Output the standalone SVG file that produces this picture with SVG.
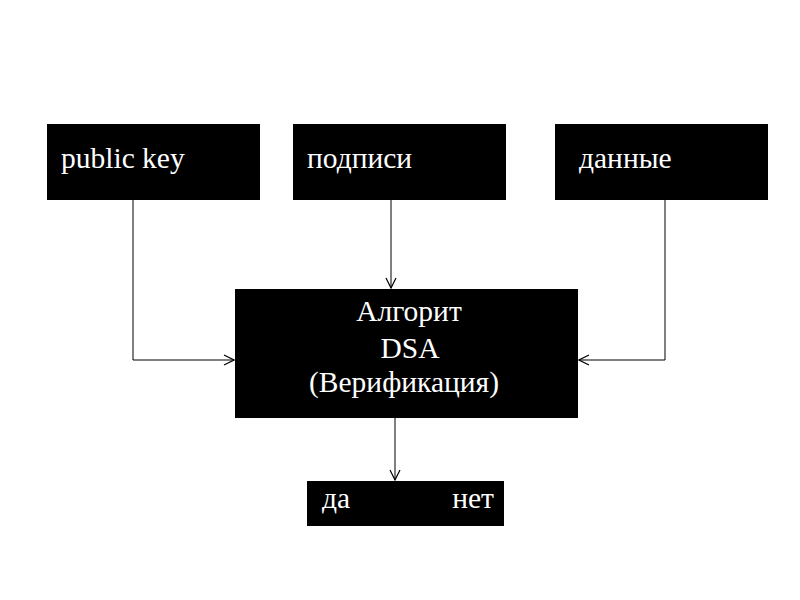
<svg xmlns="http://www.w3.org/2000/svg" width="800" height="600" viewBox="0 0 800 600">
<style>
.box{fill:#000}
.t{font-family:"Liberation Serif","DejaVu Serif",serif;font-size:29.5px;fill:#fff}
.c{fill:none;stroke:#000;stroke-width:1}
</style>
<defs>
<marker id="arr" viewBox="0 0 12 12" refX="11" refY="6" markerWidth="12" markerHeight="12" markerUnits="userSpaceOnUse" orient="auto">
<path d="M1,1 L11,6 L1,11" fill="none" stroke="#000" stroke-width="1.2"/>
</marker>
</defs>
<rect width="800" height="600" fill="#fff"/>
<g id="connectors">
<path class="c" d="M133,200 V360 H234" marker-end="url(#arr)"/>
<path class="c" d="M391,200 V288" marker-end="url(#arr)"/>
<path class="c" d="M665,200 V360 H579" marker-end="url(#arr)"/>
<path class="c" d="M395,418 V480" marker-end="url(#arr)"/>
</g>
<g id="public_key">
<rect class="box" x="47" y="124" width="213" height="76"/>
<text class="t" x="61" y="168">public key</text>
</g>
<g id="podpisi">
<rect class="box" x="293" y="124" width="213" height="76"/>
<text class="t" x="307" y="168">подписи</text>
</g>
<g id="dannye">
<rect class="box" x="555" y="124" width="213" height="76"/>
<text class="t" x="579" y="168">данные</text>
</g>
<g id="algorithm">
<rect class="box" x="235" y="289" width="343" height="129"/>
<text class="t" x="409" y="321" text-anchor="middle">Алгорит</text>
<text class="t" x="410" y="358" text-anchor="middle">DSA</text>
<text class="t" x="404" y="392" text-anchor="middle">(Верификация)</text>
</g>
<g id="result">
<rect class="box" x="307" y="481" width="197" height="45"/>
<text class="t" x="322" y="508">да</text>
<text class="t" x="494" y="508" text-anchor="end">нет</text>
</g>
</svg>
